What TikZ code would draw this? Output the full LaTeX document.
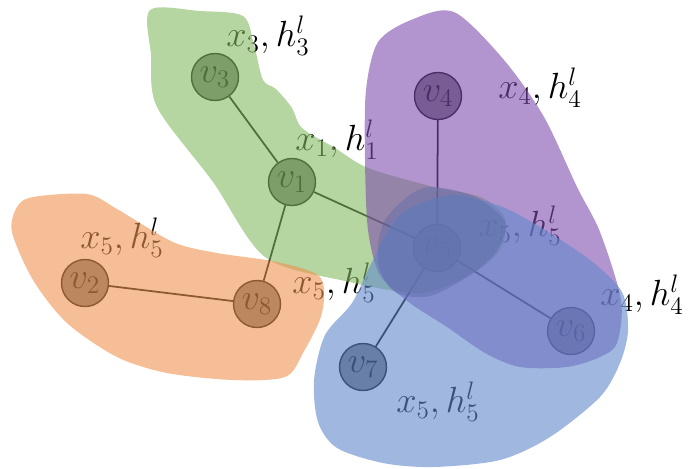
\documentclass[tikz,border=0pt]{standalone}
\usepackage{tikz}
\usetikzlibrary{positioning}
\definecolor{ggreen}{RGB}{132,187,97}
\definecolor{gorange}{RGB}{238,147,80}
\definecolor{gpurple}{RGB}{127,77,173}
\definecolor{gblue}{RGB}{97,137,203}
\definecolor{gdark}{RGB}{88,104,168}

\begin{document}
\begin{tikzpicture}[x=0.02cm, y=-0.02cm,
    vert/.style={draw, circle, fill=black!55, line width=0.8pt, minimum size=0.94cm,
                 inner sep=0pt, font=\fontsize{21}{25}\selectfont},
    feat/.style={inner sep=0pt, font=\fontsize{21}{25}\selectfont},
    edge/.style={line width=1pt},
    blob/.style={fill opacity=0.6, draw=none}
]
\useasboundingbox (0,0) rectangle (688,468);

% Features
\node[feat] (f3) at (268,36) {$x_3, h_3^l$};
\node[feat] (f1) at (337,140) {$x_1, h_1^l$};
\node[feat] (f4a) at (540,88) {$x_4, h_4^l$};
\node[feat] (f5a) at (520,226) {$x_5, h_5^l$};
\node[feat] (f4b) at (642,295) {$x_4, h_4^l$};
\node[feat] (f5b) at (438,402) {$x_5, h_5^l$};
\node[feat] (f5c) at (122,238) {$x_5, h_5^l$};
\node[feat] (f5d) at (334,283) {$x_5, h_5^l$};

% Vertices
\node[vert] (v3) at (215,77) {$v_3$};
\node[vert] (v1) at (292,182) {$v_1$};
\node[vert] (v4) at (438,96) {$v_4$};
\node[vert] (v5) at (437,248) {$v_5$};
\node[vert] (v2) at (85,283) {$v_2$};
\node[vert] (v8) at (257,304) {$v_8$};
\node[vert] (v7) at (363,367) {$v_7$};
\node[vert] (v6) at (571,331) {$v_6$};

% Edges
\draw[edge] (v3) -- (v1);
\draw[edge] (v1) -- (v5);
\draw[edge] (v1) -- (v8);
\draw[edge] (v2) -- (v8);
\draw[edge] (v4) -- (v5);
\draw[edge] (v5) -- (v7);
\draw[edge] (v5) -- (v6);

% Groups
\fill[blob, ggreen] plot[smooth cycle, tension=0.5] coordinates {
  (150,10) (200,11) (243,16) (254,45) (263,80) (276,89) (292,108) (302,128)
  (335,148) (368,168) (430,186) (480,197) (505,218) (500,250) (470,275)
  (420,293) (345,281) (265,257) (213,182) (157,107) (151,55)};
\fill[blob, gorange] plot[smooth cycle, tension=0.5] coordinates {
  (33,197) (87,194) (117,209) (173,242) (217,253) (277,262) (320,277)
  (322,313) (303,353) (285,377) (233,380) (167,373) (117,357) (67,323)
  (33,280) (12,232) (17,207)};
\fill[blob, gpurple] plot[smooth cycle, tension=0.5] coordinates {
  (454,12) (411,20) (378,42) (366,90) (365,160) (368,230) (380,275) (410,303)
  (447,327) (485,353) (520,367) (567,367) (600,357) (617,343) (621,300)
  (600,232) (577,187) (544,117) (504,60)};
\fill[blob, gblue] plot[smooth cycle, tension=0.5] coordinates {
  (372,262) (352,303) (325,335) (314,380) (318,422) (337,448) (383,463)
  (433,467) (500,460) (550,437) (600,397) (620,363) (628,330) (622,292)
  (590,260) (540,227) (500,206) (450,195) (400,215)};
\fill[gdark, fill opacity=0.4] plot[smooth cycle, tension=0.5] coordinates {
  (423,188) (473,196) (505,222) (496,252) (470,275) (430,296) (395,292)
  (378,262) (385,220)};

\end{tikzpicture}
\end{document}
